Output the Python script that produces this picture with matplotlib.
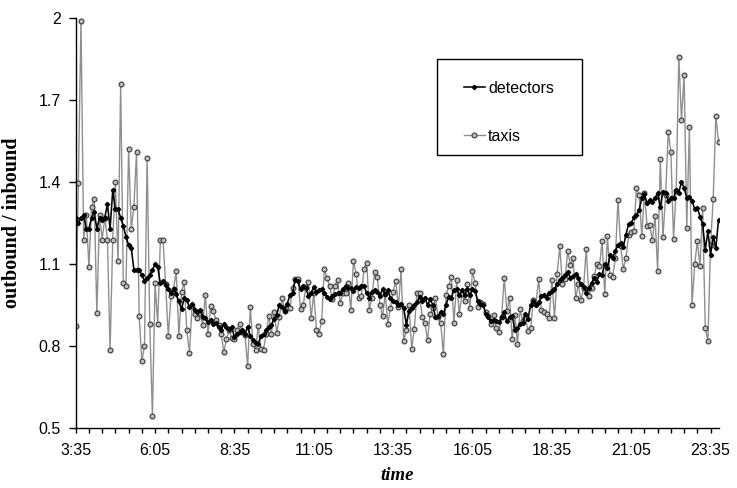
import matplotlib
matplotlib.use("Agg")
import matplotlib.pyplot as plt
from matplotlib.ticker import FixedLocator, MultipleLocator
from matplotlib.patches import Rectangle
import numpy as np

# ---- data (5-minute intervals starting at 3:35) ----
detectors = [
    1.27, 1.25, 1.27, 1.28, 1.23, 1.23, 1.27, 1.29, 1.23, 1.27, 1.26, 1.27, 1.32, 1.23, 1.37, 1.30,
    1.30, 1.27, 1.24, 1.20, 1.17, 1.16, 1.08, 1.08, 1.08, 1.06, 1.04, 1.05, 1.06, 1.08, 1.10, 1.09,
    1.03, 1.04, 1.025, 1.01, 0.996, 1.01, 0.99, 0.964, 0.936, 0.975, 0.968, 0.942, 0.956, 0.932, 0.924,
    0.934, 0.908, 0.903, 0.888, 0.896, 0.881, 0.885, 0.87, 0.86, 0.881, 0.87, 0.863, 0.872, 0.833, 0.845,
    0.851, 0.858, 0.845, 0.872, 0.836, 0.824, 0.812, 0.809, 0.836, 0.843, 0.858, 0.87, 0.879, 0.90, 0.916,
    0.952, 0.942, 0.93, 0.956, 0.988, 0.996, 1.043, 1.039, 1.008, 1.02,
    1.012, 0.984, 0.996, 1.017, 1.0, 1.005, 1.008, 0.996, 0.981, 0.972, 0.984, 0.99, 0.993, 0.996, 1.008,
    1.02, 1.014, 1.012, 1.002, 1.017, 1.014, 1.02,
    1.02, 0.993, 0.978, 1.0, 1.005, 1.0, 0.984, 1.008, 0.99, 1.005, 0.976, 0.964, 0.96, 0.952, 0.956, 0.94,
    0.879, 0.93, 0.94, 0.952, 0.96, 0.981, 0.966, 0.978,
    0.95, 0.972, 0.952, 0.906, 0.912, 0.924, 0.918, 0.952, 0.981, 0.978, 1.005, 1.008, 0.988, 1.005, 0.988,
    1.008, 0.988, 1.008, 1.002, 0.964, 0.956, 0.952, 0.918, 0.906,
    0.891, 0.896, 0.893, 0.887, 0.908, 0.924, 0.891, 0.906, 0.912, 0.86, 0.867, 0.882, 0.884, 0.918, 0.90,
    0.952, 0.964, 0.952, 0.96, 0.984, 0.988,
    0.976, 0.996, 1.002, 1.008, 1.026, 1.041, 1.05, 1.062, 1.072, 1.05, 1.056, 1.065, 1.05, 1.026, 1.017,
    0.996, 1.012, 1.032, 1.048, 1.036, 1.065, 1.062, 1.101,
    1.087, 1.133, 1.123, 1.15, 1.169, 1.178, 1.162, 1.208, 1.246, 1.25, 1.271, 1.28, 1.298, 1.341, 1.355,
    1.322, 1.335, 1.329, 1.343, 1.359, 1.31, 1.365,
    1.362, 1.331, 1.343, 1.343, 1.371, 1.362, 1.401, 1.379, 1.343, 1.346, 1.331, 1.302, 1.307, 1.274,
    1.246, 1.153, 1.22, 1.135, 1.20, 1.159, 1.262,
]

taxis = [
    0.875, 1.395, 1.99, 1.19, 1.28, 1.09, 1.31, 1.34, 0.92, 1.28, 1.19, 1.27, 1.19, 0.785, 1.19, 1.40,
    1.11, 1.76, 1.03, 1.02, 1.52, 1.23, 1.31, 1.51, 0.91, 0.745, 0.80, 1.49, 0.88, 0.545, 1.03, 0.88,
    1.188, 1.19, 1.027, 0.836, 0.982, 1.01, 1.075, 0.836, 0.997, 1.036, 0.858, 0.775, 0.948, 0.918, 0.903,
    0.92, 0.879, 0.988, 0.843, 0.947, 0.93, 0.896, 0.876, 0.845, 0.779, 0.827, 0.858, 0.831, 0.827, 0.858,
    0.881, 0.851, 0.84, 0.728, 0.942, 0.807, 0.787, 0.873, 0.789, 0.787, 0.845, 0.912, 0.846, 0.924, 0.85,
    0.906, 0.976, 0.93, 0.942, 0.94, 1.012, 1.045, 1.046, 0.936,
    0.95, 1.017, 1.035, 0.903, 0.993, 0.861, 0.846, 0.894, 1.084, 1.05, 1.02, 0.972, 1.02, 1.043, 0.958,
    0.993, 0.996, 1.032, 0.931, 1.113, 1.065, 0.978, 0.983, 1.084,
    1.106, 0.934, 0.978, 1.073, 1.054, 0.952, 0.91, 0.99, 0.882, 0.94, 1.0, 1.039, 0.942, 1.081, 0.819,
    0.86, 0.95, 0.791, 0.863, 0.993, 0.993, 0.906, 0.884,
    0.824, 0.918, 0.94, 0.976, 0.906, 0.884, 0.77, 0.988, 1.02, 1.054, 0.886, 1.041, 0.918, 0.99, 0.966,
    1.029, 0.938, 1.075, 1.032, 0.942, 0.96, 0.954,
    0.924, 0.912, 0.882, 0.915, 0.867, 0.851, 0.908, 1.051, 0.928, 0.976, 0.827, 0.915, 0.807, 0.936,
    0.891, 0.903, 0.857, 0.867, 0.968, 0.956, 1.045, 0.933, 0.924,
    0.918, 0.903, 1.041, 0.903, 1.065, 1.165, 1.029, 1.045, 1.149, 1.096, 1.123, 0.976, 1.026, 0.968,
    1.014, 1.157, 0.984, 1.012, 1.056, 1.099, 1.093, 1.184, 0.99, 1.202,
    1.06, 1.053, 1.123, 1.335, 1.166, 1.081, 1.123, 1.205, 1.218, 1.223, 1.38, 1.352, 1.203, 1.362,
    1.239, 1.243, 1.187, 1.275, 1.075, 1.483,
    1.198, 1.352, 1.584, 1.51, 1.193, 1.369, 1.857, 1.628, 1.793, 1.234, 1.60, 0.952, 1.099, 1.184,
    1.093, 1.307, 0.867, 0.819, 1.171, 1.338, 1.642, 1.546,
]

tick_labels = ["3:35", "6:05", "8:35", "11:05", "13:35", "16:05", "18:35", "21:05", "23:35"]
y_ticks = [0.5, 0.8, 1.1, 1.4, 1.7, 2.0]
y_tick_labels = ["0.5", "0.8", "1.1", "1.4", "1.7", "2"]

n = len(detectors)
x = np.arange(n)

fig = plt.figure(figsize=(7.37, 4.88), dpi=100)
W, H = 737, 488
left, right, top, bottom = 75.7, 718.5, 18, 428.3
ax = fig.add_axes([left / W, 1 - bottom / H, (right - left) / W, (bottom - top) / H])

ax.plot(x, taxis, color="#8f8f8f", lw=1.0, marker="o", ms=3.5, mfc="#bdbdbd",
        mec="#3a3a3a", mew=0.8, label="taxis", zorder=2)
ax.plot(x, detectors, color="black", lw=1.15, marker="D", ms=2.2, mfc="black",
        mec="black", label="detectors", zorder=3)

ax.set_xlim(0, n - 1)
ax.set_ylim(0.5, 2.0)

major_pos = np.arange(0, 30 * len(tick_labels), 30)
ax.xaxis.set_major_locator(FixedLocator(major_pos))
ax.set_xticklabels(tick_labels)
ax.xaxis.set_minor_locator(MultipleLocator(5))
ax.set_yticks(y_ticks)
ax.set_yticklabels(y_tick_labels)

for s in ["top", "right"]:
    ax.spines[s].set_visible(False)
for s in ["left", "bottom"]:
    ax.spines[s].set_linewidth(1.0)

tick_font = "Liberation Sans"
ax.tick_params(axis="x", which="both", direction="out", length=3.8, width=1.0, pad=7)
ax.tick_params(axis="y", which="major", direction="out", length=4.8, width=1.0, pad=6)
for lab in ax.get_xticklabels() + ax.get_yticklabels():
    lab.set_fontfamily(tick_font)
    lab.set_fontsize(11.5)

ax.set_ylabel("outbound / inbound", fontfamily="Liberation Serif", fontweight="bold",
              fontsize=14.5)
ax.yaxis.set_label_coords((22 - left) / (right - left), 0.5)
ax.set_xlabel("time", fontfamily="Liberation Serif", fontweight="bold", fontstyle="italic",
              fontsize=13.5)
ax.xaxis.set_label_coords(0.5, -0.095)

# legend box
fig.patches.append(Rectangle((436.7 / W, 1 - 155 / H), (581.7 - 436.7) / W, (155 - 59) / H,
                             transform=fig.transFigure, fill=True, facecolor="white",
                             edgecolor="black", lw=1.0, zorder=5))
handles, labels = ax.get_legend_handles_labels()
leg = fig.legend(handles[::-1], labels[::-1], loc="upper left",
                 bbox_to_anchor=(464 / W, 1 - 81 / H),
                 prop={"family": tick_font, "size": 11.5},
                 frameon=False, borderpad=0, labelspacing=2.05, handlelength=1.3,
                 handletextpad=0.2, borderaxespad=0)
leg.set_zorder(6)

fig.savefig("out.png", dpi=100)
